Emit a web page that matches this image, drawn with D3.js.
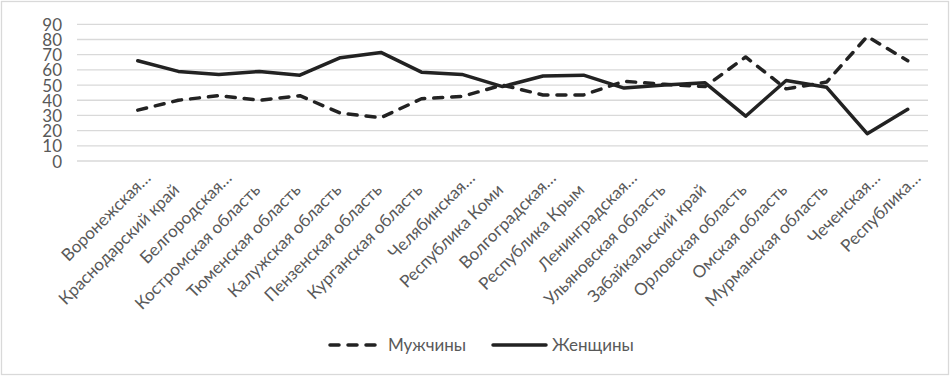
<!DOCTYPE html>
<html>
<head>
<meta charset="utf-8">
<script src="https://cdn.jsdelivr.net/npm/d3@7/dist/d3.min.js"></script>
<style>
  html, body { margin: 0; padding: 0; background: #fff; }
  svg { display: block; }
  text { font-family: Lato, "Open Sans", sans-serif; fill: #595959; }
</style>
</head>
<body>
<svg id="chart" width="952" height="378"></svg>
<script>
// ---- data ----
const categories = ["", "Воронежская…", "Краснодарский край", "Белгородская…", "Костромская область",
  "Тюменская область", "Калужская область", "Пензенская область", "Курганская область",
  "Челябинская…", "Республика Коми", "Волгоградская…", "Республика Крым", "Ленинградская…",
  "Ульяновская область", "Забайкальский край", "Орловская область", "Омская область",
  "Мурманская область", "Чеченская…", "Республика…"];
const men   = [null, 33.5, 40, 43, 40, 43, 31.5, 28.5, 41, 42.5, 50, 43.5, 43.5, 52.5, 50.5, 49, 68.5, 47.5, 52, 82, 66];
const women = [null, 66, 59, 57, 59, 56.5, 68, 71.5, 58.5, 57, 49, 56, 56.5, 48, 50, 51.5, 29.5, 53, 48.5, 18, 34];
const yTicks = [0, 10, 20, 30, 40, 50, 60, 70, 80, 90];
const seriesNames = ["Мужчины", "Женщины"];

const svg = d3.select("#chart");
const W = 952, H = 378;

// border
svg.append("rect").attr("x", 1.5).attr("y", 1.5).attr("width", W - 5).attr("height", H - 5)
  .attr("fill", "#fff").attr("stroke", "#d9d9d9").attr("stroke-width", 1.3);

const x = d3.scaleBand().domain(d3.range(categories.length)).range([77, 928]);
const y = d3.scaleLinear().domain([0, 90]).range([161, 24.3]);

// gridlines
svg.append("g").selectAll("line").data(yTicks).join("line")
  .attr("x1", 77).attr("x2", 928)
  .attr("y1", d => y(d)).attr("y2", d => y(d))
  .attr("stroke", "#d9d9d9").attr("stroke-width", 1.3);

// y axis labels
const yAxis = d3.axisLeft(y).tickValues(yTicks).tickSize(0).tickPadding(0);
const gy = svg.append("g").attr("transform", "translate(62,0)").call(yAxis);
gy.select(".domain").remove();
gy.selectAll("text").attr("font-size", 17).style("font-family", "Lato, 'Open Sans', sans-serif")
  .attr("fill", "#595959").attr("dy", "0.36em");

// x axis labels
const gx = svg.append("g");
gx.selectAll("text").data(categories.map((c, i) => ({c, i})).filter(d => d.c !== "")).join("text")
  .attr("transform", d => `translate(${x(d.i) + x.bandwidth() / 2 + 2},191) rotate(-45)`)
  .attr("text-anchor", "end")
  .attr("dx", d => d.c.endsWith("…") ? 17 : 0)
  .attr("font-size", 17)
  .text(d => d.c);

const cx = i => x(i) + x.bandwidth() / 2;
const line = d3.line().defined(d => d.v != null).x(d => cx(d.i)).y(d => y(d.v));

const toPts = arr => arr.map((v, i) => ({i, v}));

svg.append("path").datum(toPts(women)).attr("d", line)
  .attr("fill", "none").attr("stroke", "#222").attr("stroke-width", 3.5)
  .attr("stroke-linejoin", "round").attr("stroke-linecap", "round");

svg.append("path").datum(toPts(men)).attr("d", line)
  .attr("fill", "none").attr("stroke", "#222").attr("stroke-width", 3.5)
  .attr("stroke-dasharray", "9,9")
  .attr("stroke-linejoin", "round").attr("stroke-linecap", "round");

// legend
const lg = svg.append("g");
const legendItems = [
  {name: seriesNames[0], x1: 330, x2: 380, tx: 388, dash: "9,9"},
  {name: seriesNames[1], x1: 493, x2: 546, tx: 552, dash: null}
];
legendItems.forEach(it => {
  lg.append("line").attr("x1", it.x1).attr("x2", it.x2).attr("y1", 345).attr("y2", 345)
    .attr("stroke", "#222").attr("stroke-width", 3.5).attr("stroke-linecap", "round")
    .attr("stroke-dasharray", it.dash);
  lg.append("text").attr("x", it.tx).attr("y", 345).attr("dy", "0.36em")
    .attr("font-size", 17).text(it.name);
});
</script>
</body>
</html>
